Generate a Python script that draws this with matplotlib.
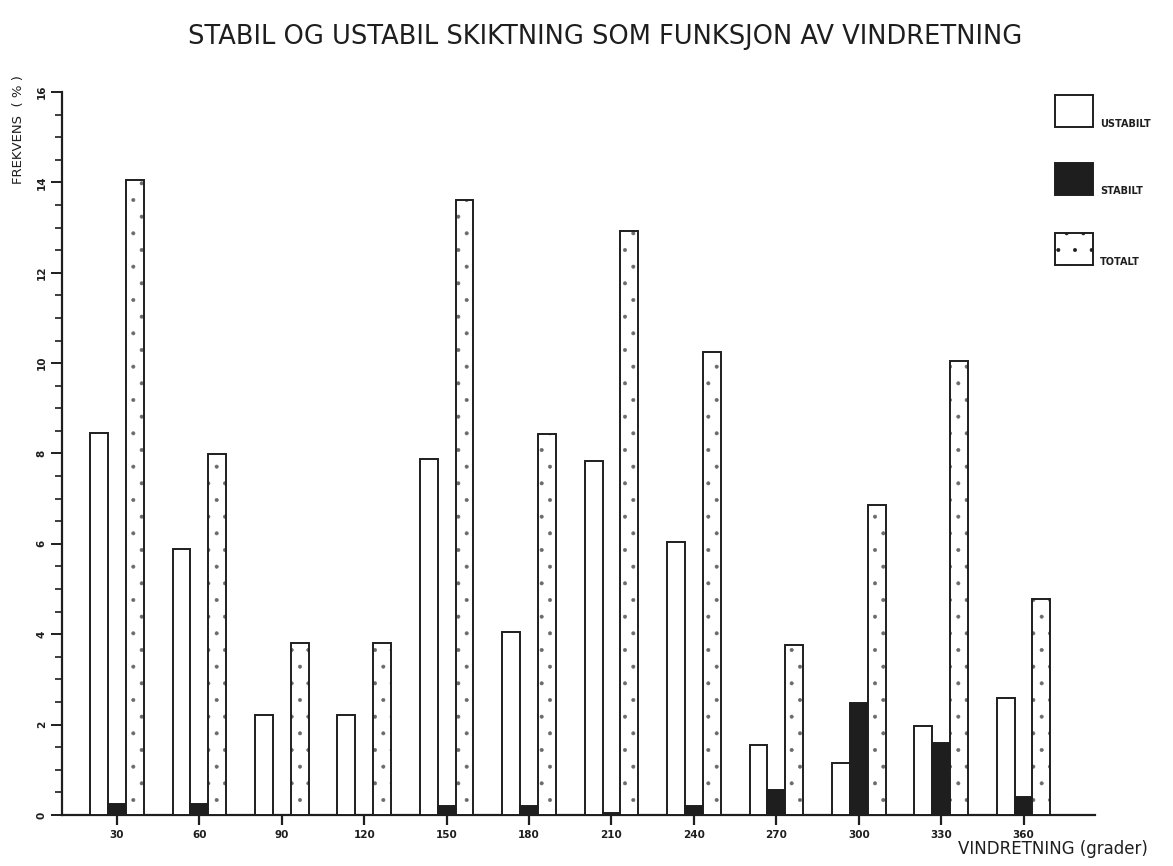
import matplotlib.pyplot as plt
import matplotlib.patches as patches
import numpy as np

# Frekvens (%) per vindretning, lest av originalen
retning = [30, 60, 90, 120, 150, 180, 210, 240, 270, 300, 330, 360]
ustabilt = [8.45, 5.88, 2.21, 2.21, 7.88, 4.05, 7.83, 6.04, 1.55, 1.15, 1.97, 2.59]
stabilt = [0.25, 0.25, 0.0, 0.0, 0.2, 0.2, 0.05, 0.2, 0.55, 2.48, 1.6, 0.4]
totalt = [14.05, 7.99, 3.80, 3.80, 13.60, 8.43, 12.92, 10.24, 3.76, 6.86, 10.04, 4.78]
y_ticks = [0, 2, 4, 6, 8, 10, 12, 14, 16]

ink = '#1e1e1e'
dots = '#6a6a6a'
plt.rcParams['hatch.linewidth'] = 0.4

fig = plt.figure(figsize=(11.73, 8.66), dpi=100)
ax = fig.add_axes([0.0529, 0.0589, 0.8806, 0.8349])

x = np.array(retning, dtype=float)
w = 6.5

ax.bar(x - w, ustabilt, width=w, facecolor='white', edgecolor=ink, linewidth=1.4, zorder=3)
ax.bar(x, stabilt, width=w, facecolor=ink, edgecolor=ink, linewidth=1.4, zorder=3)
# prikket fyll i grått, deretter omriss i svart
ax.bar(x + w, totalt, width=w, facecolor='white', edgecolor=dots, linewidth=0,
       hatch='.', zorder=3)
ax.bar(x + w, totalt, width=w, facecolor='none', edgecolor=ink, linewidth=1.4, zorder=4)

ax.set_xlim(10, 386)
ax.set_ylim(0, 16)

for side in ['top', 'right']:
    ax.spines[side].set_visible(False)
for side in ['left', 'bottom']:
    ax.spines[side].set_color(ink)
    ax.spines[side].set_linewidth(1.6)

ax.set_xticks(retning)
ax.set_xticklabels([str(r) for r in retning], fontsize=7.5, fontweight='bold', color=ink)
ax.tick_params(axis='x', direction='out', length=7, width=1.6, color=ink, pad=4)

ax.set_yticks(y_ticks)
ax.set_yticklabels([str(t) for t in y_ticks], fontsize=7.5, fontweight='bold', color=ink,
                   rotation=90, va='center')
ax.set_yticks(np.arange(0, 16.01, 0.5), minor=True)
ax.tick_params(axis='y', which='major', direction='out', length=8, width=1.4, color=ink, pad=3)
ax.tick_params(axis='y', which='minor', direction='out', length=5, width=1.2, color=ink)

fig.text(0.516, 0.957, 'STABIL OG USTABIL SKIKTNING SOM FUNKSJON AV VINDRETNING',
         ha='center', va='center', fontsize=18.5, color=ink, family='DejaVu Sans')
fig.text(0.016, 0.85, 'FREKVENS  ( % )', rotation=90, ha='center', va='center',
         fontsize=9.5, color=ink)
fig.text(0.979, 0.0196, 'VINDRETNING (grader)', ha='right', va='center',
         fontsize=12, color=ink)

# legende tegnet i figurkoordinater
legend_items = [('USTABILT', 'white', None, 0.853),
                ('STABILT', ink, None, 0.775),
                ('TOTALT', 'white', '.', 0.694)]
for label, fc, hatch, yb in legend_items:
    box = patches.Rectangle((0.8995, yb), 0.0324, 0.037, transform=fig.transFigure,
                            facecolor=fc, edgecolor=ink, linewidth=1.4, hatch=hatch)
    fig.patches.append(box)
    fig.text(0.938, yb + 0.004, label, ha='left', va='center', fontsize=7,
             fontweight='bold', color=ink)

fig.savefig('out.png', dpi=100, facecolor='white')
